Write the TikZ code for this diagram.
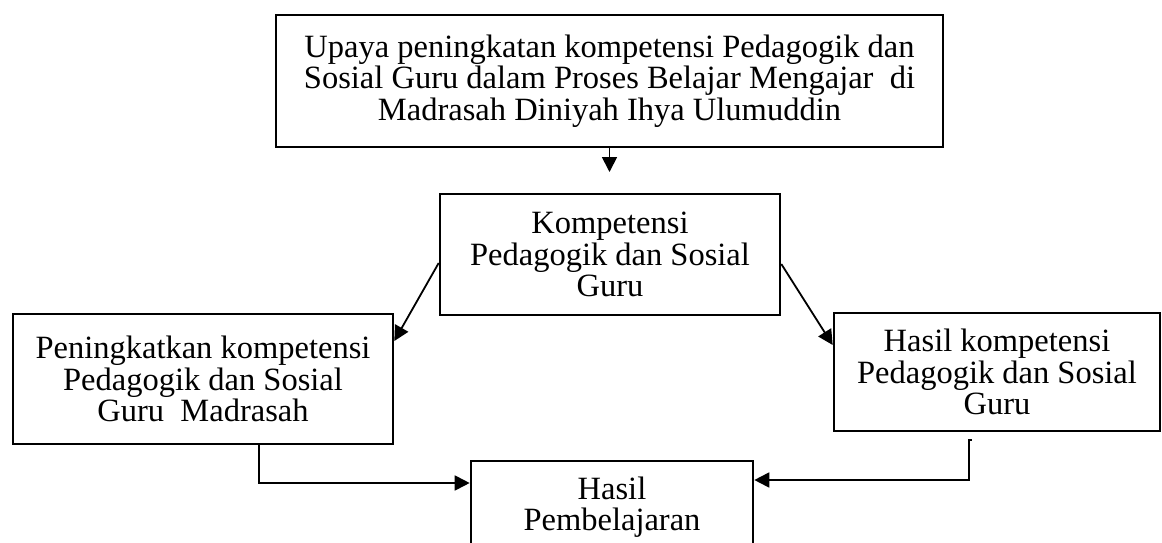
\documentclass[tikz,border=0pt]{standalone}
\usepackage{fontspec}
\setmainfont{Liberation Serif}
\usetikzlibrary{arrows.meta}
\tikzset{
  boxnode/.style={draw, line width=2.6pt, align=center, inner sep=0pt,
    font=\fontsize{32.5}{31.5}\selectfont},
  conn/.style={line width=1.8pt, -{Triangle[length=15pt,width=15pt]}},
}
\begin{document}
\begin{tikzpicture}[x=1pt,y=-1pt]
\useasboundingbox (0,0) rectangle (1162,543);
\clip (0,0) rectangle (1162,543);
\fill[white] (0,0) rectangle (1162,543);
\node[boxnode, minimum width=667pt, minimum height=132pt] (top) at (609.5,81)
  {Upaya peningkatan kompetensi Pedagogik dan\\ Sosial Guru dalam Proses Belajar Mengajar\ \ di\\ Madrasah Diniyah Ihya Ulumuddin};
\node[boxnode, minimum width=340pt, minimum height=121pt] (komp) at (610,254.5)
  {Kompetensi\\ Pedagogik dan Sosial\\ Guru};
\node[boxnode, minimum width=380pt, minimum height=130pt] (left) at (203,379)
  {Peningkatkan kompetensi\\ Pedagogik dan Sosial\\ Guru\ \ Madrasah};
\node[boxnode, minimum width=326pt, minimum height=118pt] (right) at (997,372)
  {Hasil kompetensi\\ Pedagogik dan Sosial\\ Guru};
\node[boxnode, minimum width=282pt, minimum height=92pt] (bot) at (612,507)
  {Hasil\\ Pembelajaran};
\coordinate (a1) at (609.5,172);
\coordinate (rc) at (969,440);
\draw[conn] (top.south) -- (a1);
\draw[conn] ([yshift=-8.5pt]komp.west) -- ([yshift=38pt]left.east);
\draw[conn] ([yshift=-9.5pt]komp.east) -- ([yshift=27pt]right.west);
\draw[conn] ([xshift=56pt]left.south) |- ([yshift=24pt]bot.west);
\draw[conn] ([xshift=2.5pt]rc) -- (rc) |- ([yshift=27pt]bot.east);
\end{tikzpicture}
\end{document}
